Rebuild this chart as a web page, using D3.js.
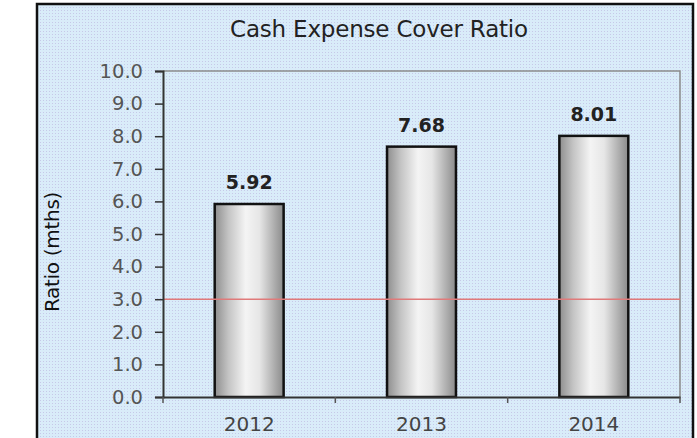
<!DOCTYPE html>
<html>
<head>
<meta charset="utf-8">
<script src="https://cdn.jsdelivr.net/npm/d3@7"></script>
<style>
  body { margin: 0; background: #fff; }
  text { font-family: "DejaVu Sans", Verdana, sans-serif; }
</style>
</head>
<body>
<script>
// chart data
var years = ["2012", "2013", "2014"];
var ratios = [5.92, 7.68, 8.01];
var yTicks = [0, 1, 2, 3, 4, 5, 6, 7, 8, 9, 10];
var benchmark = 3.0;

var width = 697, height = 438;
var plotLeft = 163, plotRight = 680, plotTop = 71, plotBottom = 397;

var svg = d3.select("body").append("svg")
    .attr("width", width)
    .attr("height", height);

var defs = svg.append("defs");

// dotted light-blue paper texture
var pat = defs.append("pattern")
    .attr("id", "paper")
    .attr("width", 3)
    .attr("height", 3)
    .attr("patternUnits", "userSpaceOnUse");
pat.append("rect").attr("width", 3).attr("height", 3).attr("fill", "#d9ecf9");
pat.append("rect").attr("x", 1).attr("y", 1).attr("width", 1).attr("height", 1).attr("fill", "#c6c9e8");

// cylinder-like gray gradient for bars
var grad = defs.append("linearGradient")
    .attr("id", "barGrad")
    .attr("x1", "0%").attr("x2", "100%")
    .attr("y1", "0%").attr("y2", "0%");
grad.append("stop").attr("offset", "0%").attr("stop-color", "#8e8e8e");
grad.append("stop").attr("offset", "20%").attr("stop-color", "#c4c4c4");
grad.append("stop").attr("offset", "45%").attr("stop-color", "#f4f4f4");
grad.append("stop").attr("offset", "65%").attr("stop-color", "#e6e6e6");
grad.append("stop").attr("offset", "100%").attr("stop-color", "#8a8a8a");

// outer frame (bottom edge runs past the picture)
svg.append("rect")
    .attr("x", 37).attr("y", 4)
    .attr("width", 656).attr("height", 450)
    .attr("fill", "url(#paper)")
    .attr("stroke", "#111")
    .attr("stroke-width", 2.5);

var x = d3.scaleBand()
    .domain(years)
    .range([plotLeft, plotRight])
    .paddingInner(0.6)
    .paddingOuter(0.3);

var y = d3.scaleLinear()
    .domain([0, 10])
    .range([plotBottom, plotTop]);

// plot border (top & right gray)
svg.append("path")
    .attr("d", "M" + plotLeft + "," + plotTop + "H" + plotRight + "V" + plotBottom)
    .attr("fill", "none")
    .attr("stroke", "#8a8a8a")
    .attr("stroke-width", 1.5);

// title
svg.append("text")
    .attr("x", 379)
    .attr("y", 37)
    .attr("text-anchor", "middle")
    .style("font-size", "23px")
    .style("letter-spacing", "-0.2px")
    .style("fill", "#222")
    .text("Cash Expense Cover Ratio");

// y axis title
svg.append("text")
    .attr("transform", "translate(59,252) rotate(-90)")
    .attr("text-anchor", "middle")
    .style("font-size", "20px")
    .style("letter-spacing", "-0.3px")
    .style("fill", "#111")
    .text("Ratio (mths)");

// bars
svg.selectAll(".bar")
    .data(ratios)
    .enter()
    .append("rect")
    .attr("class", "bar")
    .attr("x", (d, i) => x(years[i]))
    .attr("y", d => y(d))
    .attr("width", x.bandwidth())
    .attr("height", d => y(0) - y(d))
    .attr("fill", "url(#barGrad)")
    .attr("stroke", "#111")
    .attr("stroke-width", 2.5);

// value labels
svg.selectAll(".val")
    .data(ratios)
    .enter()
    .append("text")
    .attr("class", "val")
    .attr("x", (d, i) => x(years[i]) + x.bandwidth() / 2)
    .attr("y", d => y(d) - 15)
    .attr("text-anchor", "middle")
    .style("font-size", "19px")
    .style("font-weight", "bold")
    .style("fill", "#222")
    .text(d => d.toFixed(2));

// benchmark line
svg.append("line")
    .attr("x1", plotLeft)
    .attr("x2", plotRight)
    .attr("y1", y(benchmark))
    .attr("y2", y(benchmark))
    .attr("stroke", "#e07a7a")
    .attr("stroke-width", 1.5);

// y axis
var yAxis = svg.append("g")
    .attr("transform", "translate(" + plotLeft + ",0)")
    .call(d3.axisLeft(y).tickValues(yTicks).tickFormat(d3.format(".1f")).tickSize(8).tickPadding(12));
yAxis.select(".domain").attr("stroke", "#333").attr("stroke-width", 2);
yAxis.selectAll(".tick line").attr("stroke", "#333").attr("stroke-width", 1.5);
yAxis.selectAll("text")
    .style("font-size", "19.5px")
    .style("fill", "#555")
    .style("font-family", "'DejaVu Sans', Verdana, sans-serif");

// x axis
var xAxis = svg.append("g")
    .attr("transform", "translate(0," + plotBottom + ")")
    .call(d3.axisBottom(x).tickSize(0).tickPadding(20));
xAxis.select(".domain").attr("stroke", "#333").attr("stroke-width", 2);
xAxis.selectAll("text")
    .style("font-size", "20px")
    .style("fill", "#444")
    .style("font-family", "'DejaVu Sans', Verdana, sans-serif");

// category boundary ticks
var bounds = d3.range(years.length + 1).map(i => plotLeft + i * (plotRight - plotLeft) / years.length);
svg.selectAll(".xb")
    .data(bounds)
    .enter()
    .append("line")
    .attr("x1", d => d).attr("x2", d => d)
    .attr("y1", plotBottom)
    .attr("y2", plotBottom + 6)
    .attr("stroke", "#555")
    .attr("stroke-width", 1.5);
</script>
</body>
</html>
